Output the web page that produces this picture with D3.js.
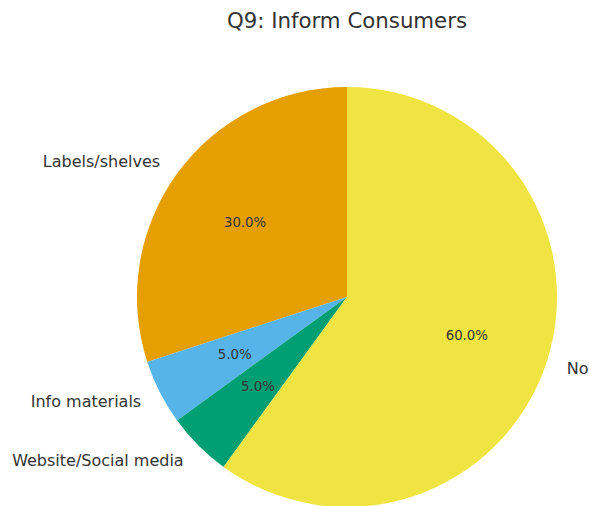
<!DOCTYPE html>
<html>
<head>
<meta charset="utf-8">
<script src="https://cdn.jsdelivr.net/npm/d3@7"></script>
<style>
  html, body { margin: 0; padding: 0; background: #fff; }
  svg { display: block; font-family: "DejaVu Sans", sans-serif; }
</style>
</head>
<body>
<svg id="chart" width="589" height="506"></svg>
<script>
// Survey answers for question 9
const categories = ["Labels/shelves", "Info materials", "Website/Social media", "No"];
const shares = [30, 5, 5, 60];
const colors = ["#E69F00", "#56B4E9", "#009E73", "#F0E442"];
const title = "Q9: Inform Consumers";

const svg = d3.select("#chart");
const cx = 347, cy = 297, radius = 210;

svg.append("text")
  .attr("x", cx).attr("y", 20)
  .attr("text-anchor", "middle")
  .attr("dominant-baseline", "central")
  .attr("font-size", 21.3)
  .attr("fill", "#333")
  .text(title);

const data = categories.map((c, i) => ({ name: c, value: shares[i], color: colors[i] }));

// Slices run counter-clockwise starting at 12 o'clock
const pie = d3.pie().sort(null).value(d => d.value)
  .startAngle(0).endAngle(-2 * Math.PI);
const arcs = pie(data);

const g = svg.append("g").attr("transform", `translate(${cx},${cy})`);
const arc = d3.arc().innerRadius(0).outerRadius(radius);

g.selectAll("path.slice").data(arcs).join("path")
  .attr("class", "slice")
  .attr("d", arc)
  .attr("fill", d => d.data.color);

const mid = d => (d.startAngle + d.endAngle) / 2;

// percentage labels inside the slices
g.selectAll("text.pct").data(arcs).join("text")
  .attr("class", "pct")
  .attr("x", d => Math.sin(mid(d)) * radius * 0.6)
  .attr("y", d => -Math.cos(mid(d)) * radius * 0.6)
  .attr("text-anchor", "middle")
  .attr("dominant-baseline", "central")
  .attr("font-size", 13.3)
  .attr("fill", "#333")
  .text(d => d3.format(".1f")(d.data.value) + "%");

// category labels outside the pie
g.selectAll("text.cat").data(arcs).join("text")
  .attr("class", "cat")
  .attr("x", d => Math.sin(mid(d)) * radius * 1.1)
  .attr("y", d => -Math.cos(mid(d)) * radius * 1.1)
  .attr("text-anchor", d => Math.sin(mid(d)) < 0 ? "end" : "start")
  .attr("dominant-baseline", "central")
  .attr("font-size", 16)
  .attr("fill", "#333")
  .text(d => d.data.name);
</script>
</body>
</html>
